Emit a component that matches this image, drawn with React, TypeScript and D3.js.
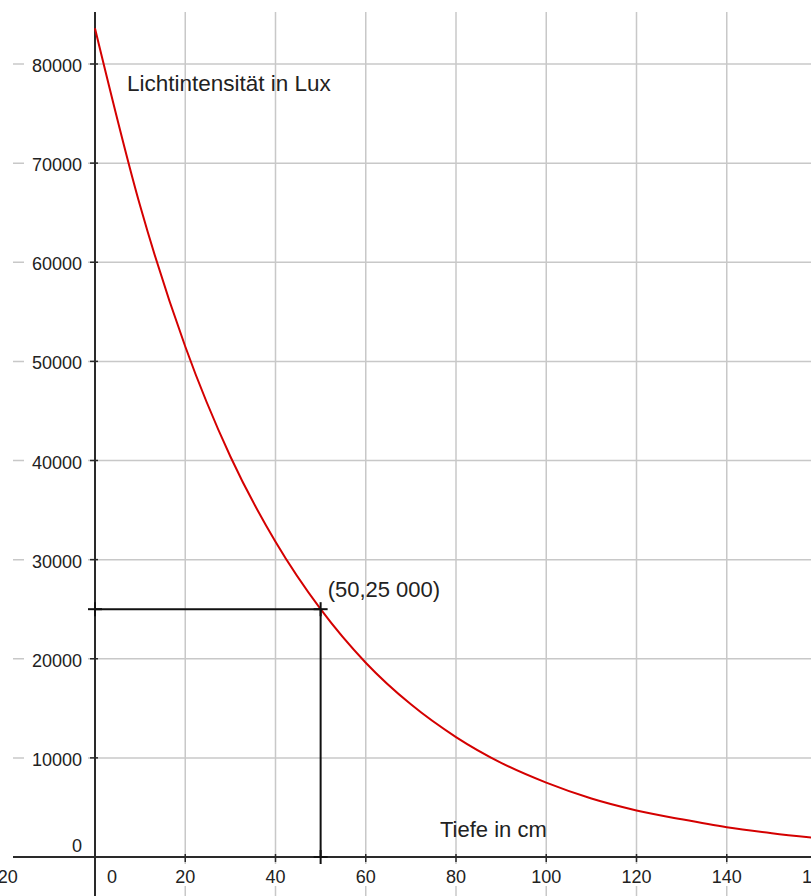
import React from "react";
import * as d3 from "d3";

// Depth in cm and light intensity in lux
const depthCm = [0, 10, 20, 30, 40, 50, 60, 70, 80, 90, 100, 110, 120, 130, 140, 150, 160];
const intensityLux = [83600, 65700, 51500, 40400, 31800, 25000, 19600, 15400, 12100, 9500, 7500, 5900, 4700, 3800, 3000, 2400, 1900];

const xTicks = [-20, 0, 20, 40, 60, 80, 100, 120, 140, 160];
const yTicks = [0, 10000, 20000, 30000, 40000, 50000, 60000, 70000, 80000];

const markedPoint = { x: 50, y: 25000, label: "(50,25 000)" };
const yAxisTitle = "Lichtintensität in Lux";
const xAxisTitle = "Tiefe in cm";

const W = 811;
const H = 896;

export default function App() {
  const x = d3.scaleLinear().domain([0, 160]).range([95, 817]);
  const y = d3.scaleLinear().domain([0, 80000]).range([857, 64]);

  const left = 13;
  const top = 12;
  const gridColor = "#c8c8c8";
  const axisColor = "#2a2a2a";
  const font = "'Liberation Sans', Arial, sans-serif";

  const line = d3
    .line<number>()
    .x((_, i) => x(depthCm[i]))
    .y((d) => y(d))
    .curve(d3.curveMonotoneX);

  const px = x(markedPoint.x);
  const py = y(markedPoint.y);
  const x0 = x(0);
  const y0 = y(0);
  const m = 7;

  return (
    <svg
      width={W}
      height={H}
      style={{ position: "absolute", left: 0, top: 0, background: "#fff" }}
      fontFamily={font}
    >
      <rect x={0} y={0} width={W} height={H} fill="#fff" />
      <defs>
        <clipPath id="plot">
          <rect x={left} y={top} width={W - left} height={H - top} />
        </clipPath>
      </defs>
      {/* grid */}
      <g clipPath="url(#plot)">
        {xTicks
          .filter((t) => t !== 0)
          .map((t) => (
            <line key={"gx" + t} x1={x(t)} x2={x(t)} y1={top} y2={H} stroke={gridColor} strokeWidth={1.5} />
          ))}
        {yTicks
          .filter((t) => t !== 0)
          .map((t) => (
            <line key={"gy" + t} x1={left} x2={W} y1={y(t)} y2={y(t)} stroke={gridColor} strokeWidth={1.5} />
          ))}
      </g>
      {/* y tick labels with white background */}
      {yTicks.map((t) => {
        const isZero = t === 0;
        const by = isZero ? 852 : y(t) + 8;
        const label = String(t);
        return (
          <g key={"yl" + t}>
            {!isZero && <rect x={24} y={y(t) - 9} width={64} height={19} fill="#fff" />}
            <text x={82} y={by} textAnchor="end" fontSize={18} fill="#222">
              {label}
            </text>
          </g>
        );
      })}
      {/* x tick labels */}
      {xTicks.map((t) => {
        const cx = t === 0 ? x(0) + 17 : x(t);
        return (
          <g key={"xl" + t}>
            <rect x={cx - 18} y={864} width={36} height={22} fill="#fff" />
            <text x={cx} y={883} textAnchor="middle" fontSize={18} fill="#222">
              {t}
            </text>
          </g>
        );
      })}
      {/* axes */}
      <line x1={x0} x2={x0} y1={top} y2={H} stroke={axisColor} strokeWidth={2} />
      <line x1={left} x2={W} y1={y0} y2={y0} stroke={axisColor} strokeWidth={2} />
      {yTicks
        .filter((t) => t !== 0)
        .map((t) => (
          <line key={"yt" + t} x1={x0 - 5} x2={x0 + 3} y1={y(t)} y2={y(t)} stroke={axisColor} strokeWidth={1.5} />
        ))}
      {xTicks
        .filter((t) => t !== 0 && x(t) > left && x(t) < W)
        .map((t) => (
          <line key={"xt" + t} x1={x(t)} x2={x(t)} y1={y0 - 3} y2={y0 + 5} stroke={axisColor} strokeWidth={1.5} />
        ))}
      {/* curve */}
      <g clipPath="url(#plot)">
        <path d={line(intensityLux) || ""} fill="none" stroke="#d40000" strokeWidth={2} />
      </g>
      {/* helper segments with markers */}
      <line x1={x0} x2={px} y1={py} y2={py} stroke="#111" strokeWidth={2} />
      <line x1={px} x2={px} y1={py} y2={y0} stroke="#111" strokeWidth={2} />
      <line x1={x0} x2={x0} y1={py - m} y2={py + m} stroke="#111" strokeWidth={2} />
      <line x1={x0 - m} x2={x0 + m} y1={py} y2={py} stroke="#111" strokeWidth={2} />
      <line x1={px - m} x2={px + m} y1={py} y2={py} stroke="#111" strokeWidth={2} />
      <line x1={px} x2={px} y1={py - m} y2={py + m} stroke="#111" strokeWidth={2} />
      <line x1={px - m} x2={px + m} y1={y0} y2={y0} stroke="#111" strokeWidth={2} />
      <line x1={px} x2={px} y1={y0 - m} y2={y0 + m} stroke="#111" strokeWidth={2} />
      {/* texts */}
      <text x={127} y={91} fontSize={22.5} fill="#222">
        {yAxisTitle}
      </text>
      <text x={440} y={837} fontSize={22} fill="#222">
        {xAxisTitle}
      </text>
      <text x={px + 7} y={py - 12} fontSize={22} fill="#222">
        {markedPoint.label}
      </text>
    </svg>
  );
}
